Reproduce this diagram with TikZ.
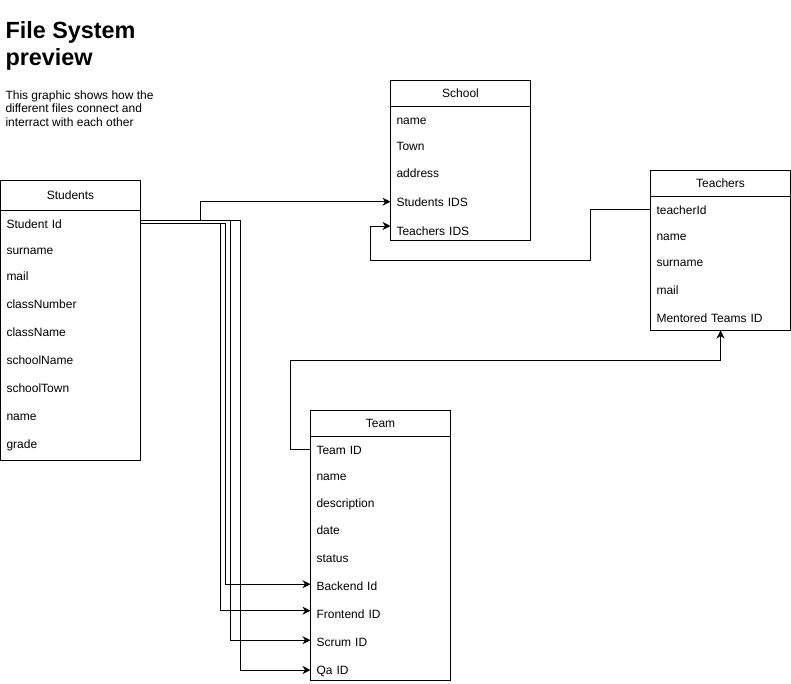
\documentclass[tikz,border=0pt]{standalone}
\usepackage{fontspec}
\setmainfont{Liberation Sans}
\usetikzlibrary{arrows.meta}
\begin{document}
\begin{tikzpicture}[x=1pt,y=-1pt,line width=1pt,
  tbl/.style={draw=black, anchor=north west, minimum width=140pt, outer sep=0pt, inner sep=0pt},
  hdr/.style={tbl, font=\fontsize{12}{14.4}\selectfont, text height=8.6pt, text depth=0pt},
  row/.style={anchor=base west, inner xsep=6pt, inner ysep=0pt, outer sep=0pt,
    text width=128pt, align=left, text height=8.6pt, text depth=0pt,
    font=\fontsize{12}{14.4}\selectfont},
  link/.style={draw=black, line width=1pt},
  arr/.style={link, -{Stealth[length=8pt,width=8pt,inset=2.5pt]}}
]
\useasboundingbox (0,0) rectangle (791,683);

% heading and description
\node[anchor=north west, inner sep=0pt, align=left,
  font=\fontsize{23.4}{26.7}\selectfont\bfseries] (title) at (5,21.5) {File System\\preview};
\node[anchor=north west, inner sep=0pt, align=left,
  font=\fontsize{12}{13.3}\selectfont] (desc) at (5,90.5)
  {This graphic shows how the\\different files connect and\\interract with each other};

% Students
\node[hdr, minimum height=30pt] (stuHead) at (0.5,180.5) {Students};
\node[tbl, minimum height=250pt] (stuBody) at (stuHead.south west) {};
\node[row] (stuId)    at (0.5,228)   {Student Id};
\node[row] (stuSur)   at (0.5,254.5) {surname};
\node[row] (stuMail)  at (0.5,280.5) {mail};
\node[row] (stuCNum)  at (0.5,308.5) {classNumber};
\node[row] (stuCName) at (0.5,336.5) {className};
\node[row] (stuSName) at (0.5,364.5) {schoolName};
\node[row] (stuSTown) at (0.5,392.5) {schoolTown};
\node[row] (stuName)  at (0.5,420.5) {name};
\node[row] (stuGrade) at (0.5,448.5) {grade};

% School
\node[hdr, minimum height=26pt] (schHead) at (390.5,80.5) {School};
\node[tbl, minimum height=134pt] (schBody) at (schHead.south west) {};
\node[row] (schName) at (390.5,124)   {name};
\node[row] (schTown) at (390.5,150)   {Town};
\node[row] (schAddr) at (390.5,177.5) {address};
\node[row] (schStu)  at (390.5,206.5) {Students IDS};
\node[row] (schTch)  at (390.5,235)   {Teachers IDS};

% Teachers
\node[hdr, minimum height=26pt] (tchHead) at (650.5,170.5) {Teachers};
\node[tbl, minimum height=134pt] (tchBody) at (tchHead.south west) {};
\node[row] (tchId)   at (650.5,214)   {teacherId};
\node[row] (tchName) at (650.5,240)   {name};
\node[row] (tchSur)  at (650.5,266)   {surname};
\node[row] (tchMail) at (650.5,294)   {mail};
\node[row] (tchMent) at (650.5,322)   {Mentored Teams ID};

% Team
\node[hdr, minimum height=26pt] (tmHead) at (310.5,410.5) {Team};
\node[tbl, minimum height=244pt] (tmBody) at (tmHead.south west) {};
\node[row] (tmId)    at (310.5,454)   {Team ID};
\node[row] (tmName)  at (310.5,480.5) {name};
\node[row] (tmDesc)  at (310.5,507)   {description};
\node[row] (tmDate)  at (310.5,534.5) {date};
\node[row] (tmStat)  at (310.5,562)   {status};
\node[row] (tmBack)  at (310.5,590)   {Backend Id};
\node[row] (tmFront) at (310.5,618)   {Frontend ID};
\node[row] (tmScrum) at (310.5,646)   {Scrum ID};
\node[row] (tmQa)    at (310.5,674)   {Qa ID};

% student id references
\draw[arr] ([yshift=3pt]stuId.east) -- ++(59.5,0) |- ([yshift=0.5pt]schStu.west);
\draw[arr] ([yshift=3pt]stuId.east) -- ++(90,0) |- ([yshift=1.5pt]tmScrum.west);
\draw[arr] ([yshift=3pt]stuId.east) -- ++(100,0) |- ([yshift=-0.3pt]tmQa.west);
\draw[arr] ([yshift=0.5pt]stuId.east) -- ++(80,0) |- ([yshift=3pt]tmFront.west);
\draw[arr] ([yshift=0.5pt]stuId.east) -- ++(85,0) |- ([yshift=1.5pt]tmBack.west);

% teacher id reference
\draw[arr] ([yshift=0.5pt]tchId.west) -- ++(-60,0) |- (370.5,260.5) |- ([yshift=4.7pt]schTch.west);

% team id reference
\draw[arr] ([yshift=0.5pt]tmId.west) -- ++(-20,0) |- ([yshift=-30pt]tchBody.south) -- (tchBody.south);
\end{tikzpicture}
\end{document}
